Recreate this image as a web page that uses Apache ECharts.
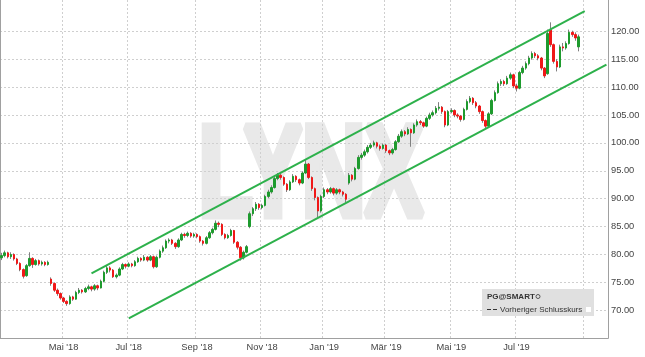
<!DOCTYPE html>
<html><head><meta charset="utf-8">
<script src="https://cdn.jsdelivr.net/npm/echarts@6/dist/echarts.min.js"></script>
<style>html,body{margin:0;padding:0;background:#fff}#c{width:645px;height:357px}</style>
</head><body><div id="c"></div>
<script>
// ---- calendar ----
const firstDay = '2018-03-05';
const lastDay = '2019-09-23';
const holidays = ['2018-03-30','2018-05-28','2018-07-04','2018-09-03','2018-11-22','2018-12-05','2018-12-25',
  '2019-01-01','2019-01-21','2019-02-18','2019-04-19','2019-05-27','2019-07-04','2019-09-02'];
const monthNames = ['Jan','Feb','Mär','Apr','Mai','Jun','Jul','Aug','Sep','Okt','Nov','Dez'];
const xTickLabels = ["Mai '18","Jul '18","Sep '18","Nov '18","Jan '19","Mär '19","Mai '19","Jul '19"];
const yTickValues = [70,75,80,85,90,95,100,105,110,115,120];

// ---- candles: [open, close, low, high], one per two trading days ----
const candles2018 = [
[79.4,79.8,79.0,80.3],[79.8,80.3,79.5,80.7],[80.3,79.6,79.3,80.5],[79.6,80.0,79.2,80.4],[80.0,79.2,78.9,80.2],
[79.2,78.4,78.1,79.4],[78.4,77.3,77.0,78.6],[77.3,76.1,75.7,77.5],[76.2,78.0,76.0,78.3],[78.0,79.3,77.8,80.4],
[79.3,78.2,77.6,79.5],[78.2,78.9,78.0,79.2],[78.9,78.3,78.0,79.1],[78.3,78.6,78.0,78.9],[78.6,78.2,77.9,78.8],
[78.2,78.6,78.0,78.9],[75.6,74.8,74.4,75.9],[74.8,73.6,73.3,75.0],[73.6,73.0,72.6,73.9],[73.0,72.2,71.9,73.2],
[72.2,71.6,71.3,72.4],[71.6,71.2,70.8,71.8],[71.2,72.4,71.0,72.7],[72.4,72.0,71.7,72.6],[72.0,73.2,71.9,73.5],
[73.2,73.6,72.9,74.0],[73.6,73.3,73.0,73.8],[73.3,73.9,73.1,74.2],[73.9,74.2,73.6,74.6],[74.2,73.8,73.4,74.4],
[73.8,74.4,73.5,74.7],[74.4,74.0,73.6,74.6],[74.0,75.2,73.9,75.5],[75.2,76.8,75.0,77.1],[76.8,77.6,76.5,78.0],
[77.6,77.2,76.8,77.9],[77.2,76.0,75.8,77.4],[76.0,76.3,75.7,76.6],[76.3,77.4,76.1,77.7],[77.4,78.2,77.2,78.5],
[78.2,77.9,77.5,78.4],[77.9,78.3,77.7,78.6],[78.3,78.0,77.7,78.5],[78.0,78.7,77.8,79.0],[78.7,79.3,78.5,79.6],
[79.3,79.0,78.7,79.5],[79.0,79.5,78.8,79.9],[79.5,79.0,78.7,79.7],[79.0,79.6,78.8,79.9],[79.6,77.8,77.5,79.8],
[77.8,79.5,77.6,79.8],[79.5,80.6,79.3,80.9],[80.6,81.2,80.3,81.6],[81.2,82.4,81.0,82.7],[82.4,82.6,82.0,82.9],
[82.6,82.0,81.7,82.8],[82.0,81.4,81.0,82.2],[81.4,82.6,81.2,82.9],[82.6,83.6,82.4,83.9],[83.6,83.4,83.0,83.9],
[83.4,83.8,83.1,84.1],[83.8,83.3,83.0,84.0],[83.3,83.6,83.0,83.9],[83.6,83.2,82.9,83.8],[83.2,82.4,82.1,83.4],
[82.4,82.0,81.6,82.6],[82.0,83.0,81.8,83.3],[83.0,83.9,82.8,84.2],[83.9,84.5,83.6,84.8],[84.5,85.6,84.3,86.1],
[85.6,85.4,84.9,85.9],[85.4,83.6,83.3,85.6],[83.6,83.0,82.7,83.8],[83.0,83.4,82.8,83.7],[83.4,84.3,83.2,84.6],
[84.3,82.2,81.9,84.4],[82.2,81.3,80.9,82.4],[81.3,79.4,78.9,81.5],[79.4,80.4,79.1,80.7],[80.4,81.4,80.2,81.7],
[85.0,87.3,84.7,87.7],[87.3,88.2,86.9,88.5],[88.2,89.0,87.8,89.4],[89.0,88.4,88.0,89.2],[88.4,88.8,88.1,89.1],
[88.8,90.4,88.6,90.7],[90.4,91.2,90.1,91.6],[91.2,92.0,90.9,92.4],[92.0,93.6,91.8,93.9],[93.6,94.2,93.3,94.6],
[94.2,93.8,93.4,94.5],[93.8,92.6,92.3,94.0],[92.6,91.6,91.2,92.8],[91.6,93.0,91.4,93.3],[93.0,94.0,92.8,94.4],
[94.0,93.4,93.0,94.2],[93.4,92.8,92.4,93.6],[92.8,94.6,92.6,94.9],[94.6,96.2,94.4,96.9],[96.2,93.8,93.5,96.4],
[93.8,91.8,91.4,94.0],[91.8,90.2,89.7,92.0],[90.2,87.8,86.7,90.4],[87.8,90.4,87.5,90.7]
];
const candles2019 = [
[90.4,91.6,90.1,92.0],[91.6,91.2,90.8,91.9],[91.2,91.8,90.9,92.1],[91.8,91.0,90.6,92.0],[91.0,91.6,90.7,91.9],
[91.6,91.2,90.8,91.8],[91.2,90.8,90.4,91.4],[90.8,89.9,89.3,91.0],[92.8,94.2,92.5,94.6],[94.2,93.5,93.1,94.4],
[93.5,95.4,93.3,95.7],[95.4,97.4,95.2,97.8],[97.4,97.8,97.0,98.2],[97.8,98.4,97.5,98.8],[98.4,99.2,98.1,99.6],
[99.2,99.6,98.9,100.0],[99.6,100.0,99.3,100.4],[100.0,99.4,99.0,100.2],[99.4,99.0,98.6,99.7],[99.0,99.6,98.8,99.9],
[99.6,98.6,98.2,99.8],[98.6,98.2,97.8,98.8],[98.2,98.8,97.9,99.1],[98.8,100.2,98.6,100.5],[100.2,101.2,100.0,101.6],
[101.2,102.0,100.9,102.4],[102.0,101.6,101.2,102.3],[101.6,102.4,101.4,102.8],[102.4,101.8,99.3,102.6],[101.8,103.2,101.6,103.5],
[103.2,103.8,102.9,104.2],[103.8,103.6,103.2,104.1],[103.6,103.0,102.7,103.8],[103.0,104.4,102.8,104.7],[104.4,105.0,104.1,105.4],
[105.0,105.4,104.7,105.8],[105.4,106.2,105.1,106.6],[106.2,106.4,105.8,107.3],[106.4,105.6,105.2,106.6],[105.6,103.2,102.8,105.8],
[103.2,105.6,103.0,105.9],[105.6,105.8,105.3,106.2],[105.8,105.0,104.6,106.0],[105.0,104.8,104.4,105.3],[104.8,104.2,103.8,105.0],
[104.2,106.0,104.0,106.3],[106.0,107.4,105.8,107.8],[107.4,108.0,107.1,108.4],[108.0,107.2,106.8,108.2],[107.2,106.6,106.2,107.5],
[106.6,105.6,105.2,106.8],[105.6,104.0,103.6,105.8],[104.0,103.0,102.6,104.2],[103.0,105.2,102.8,105.5],[105.2,107.6,105.0,107.9],
[107.6,109.0,107.4,109.4],[109.0,110.6,108.8,111.0],[110.6,111.0,110.2,111.4],[111.0,110.6,110.2,111.3],[110.6,111.6,110.4,112.0],
[111.6,112.2,111.3,112.6],[112.2,110.2,109.8,112.4],[110.2,109.8,109.2,110.6],[109.8,112.6,109.6,112.9],[112.6,113.4,112.3,113.8],
[113.4,114.2,113.1,114.6],[114.2,115.2,113.9,115.6],[115.2,116.0,114.9,116.4],[116.0,115.6,115.2,116.3],[115.6,115.2,114.8,115.9],
[115.2,113.4,113.0,115.4],[113.4,112.0,111.6,113.6],[112.4,119.6,112.2,120.3],[120.3,117.6,117.2,121.6],[117.6,114.6,114.2,117.8],
[114.6,113.6,112.8,115.0],[113.6,117.2,113.4,117.6],[117.2,117.0,116.4,117.9],[117.0,117.8,116.7,118.2],[117.8,119.8,117.6,120.3],
[119.8,119.4,119.0,120.1],[119.4,118.8,118.3,119.8],[117.2,119.0,116.4,119.4]
];

// ---- trend channel (date, price) ----
const upperChannelDates = ['2018-05-25','2019-08-30'];
const upperChannelValues = [76.6, 123.6];
const lowerChannelDates = ['2018-06-29','2019-09-20'];
const lowerChannelValues = [68.56, 114.0];

// ---- build ----
function tradingDays(start, end) {
  const out = []; const d = new Date(start + 'T00:00:00Z'); const e = new Date(end + 'T00:00:00Z');
  while (d <= e) {
    const wd = d.getUTCDay(); const s = d.toISOString().slice(0, 10);
    if (wd !== 0 && wd !== 6 && holidays.indexOf(s) < 0) out.push(s);
    d.setUTCDate(d.getUTCDate() + 1);
  }
  return out;
}
const days = tradingDays(firstDay, lastDay);
const categories = [];
for (let i = 0; i < days.length; i += 2) categories.push(days[i]);
const monthStart = {}; // category index -> label
for (let i = 1; i < days.length; i++) {
  const m = +days[i].slice(5, 7) - 1, pm = +days[i - 1].slice(5, 7) - 1;
  if (m !== pm && m % 2 === 0) monthStart[Math.floor(i / 2)] = monthNames[m] + " '" + days[i].slice(2, 4);
}
function catIndex(date) { let k = 0; for (let i = 0; i < categories.length; i++) if (categories[i] <= date) k = i; return k; }

const candles = candles2018.concat(candles2019);
const bodies = candles.map(c => [c[0], c[1], Math.min(c[0], c[1]), Math.max(c[0], c[1])]);
const upperLine = upperChannelDates.map((d, i) => [catIndex(d), upperChannelValues[i]]);
const lowerLine = lowerChannelDates.map((d, i) => [catIndex(d), lowerChannelValues[i]]);

const GREEN = '#1e9b2e', RED = '#f01818', WICK = '#808080', LINE = '#2db14b';
const gridColors = []; for (let i = 0; i < 12; i++) gridColors.push('#cfcfcf'); gridColors.push('rgba(0,0,0,0)', 'rgba(0,0,0,0)');
const FONT = '"Liberation Sans", Arial, sans-serif';

const chart = echarts.init(document.getElementById('c'), null, { renderer: 'canvas' });
chart.setOption({
  animation: false,
  backgroundColor: '#fff',
  grid: { left: 0, right: 37, top: 0, bottom: 18.8, containLabel: false },
  xAxis: {
    type: 'category', data: categories, boundaryGap: true,
    axisLine: { lineStyle: { color: '#a0a0a0', width: 1 } },
    axisTick: { show: false },
    axisLabel: {
      interval: (idx) => monthStart[idx] !== undefined && xTickLabels.indexOf(monthStart[idx]) >= 0,
      formatter: (v, idx) => monthStart[idx] || '',
      color: '#444', fontSize: 9.3, fontFamily: FONT, margin: 5
    },
    splitLine: { show: true, interval: (idx) => monthStart[idx] !== undefined,
      lineStyle: { color: '#cfcfcf', type: [2, 2], width: 1 } }
  },
  yAxis: [{
    type: 'value', position: 'right', min: 65, max: 125.6, interval: 5, scale: true,
    axisLine: { show: true, lineStyle: { color: '#a0a0a0' } },
    axisTick: { show: false },
    axisLabel: { color: '#444', fontSize: 9.3, fontFamily: FONT, margin: 3,
      formatter: v => yTickValues.indexOf(v) >= 0 ? v.toFixed(2) : '' },
    splitLine: { show: true, lineStyle: { color: gridColors, type: [2, 2], width: 1 } }
  }, {
    type: 'value', position: 'left', min: 65, max: 125.6,
    axisLine: { show: true, lineStyle: { color: '#a0a0a0' } },
    axisTick: { show: false }, axisLabel: { show: false }, splitLine: { show: false }
  }],
  series: [{
    type: 'candlestick', data: candles, barWidth: 1, silent: true, z: 3,
    itemStyle: { color: WICK, color0: WICK, borderColor: WICK, borderColor0: WICK, borderWidth: 1 }
  }, {
    type: 'candlestick', data: bodies, barWidth: 2, silent: true, z: 4,
    itemStyle: { color: GREEN, color0: RED, borderColor: GREEN, borderColor0: RED, borderWidth: 1 }
  }, {
    type: 'line', data: upperLine, symbol: 'none', silent: true, z: 5,
    lineStyle: { color: LINE, width: 2 }
  }, {
    type: 'line', data: lowerLine, symbol: 'none', silent: true, z: 5,
    lineStyle: { color: LINE, width: 2 }
  }],
  graphic: [
    { type: 'text', x: 311, y: 180, scaleX: 0.68, z: -10, silent: true,
      style: { text: 'LYNX', font: 'bold 128px ' + FONT, fill: '#e9e9e9', stroke: '#e9e9e9', lineWidth: 9,
        align: 'center', verticalAlign: 'middle' } },
    { type: 'rect', shape: { x: 482, y: 289, width: 112, height: 27 }, style: { fill: '#e0e0e0' }, z: 50 },
    { type: 'text', x: 487, y: 297, z: 51, style: { text: 'PG@SMART', font: 'bold 8px ' + FONT, fill: '#333', verticalAlign: 'middle' } },
    { type: 'circle', shape: { cx: 538, cy: 296.5, r: 2 }, style: { fill: 'none', stroke: '#555', lineWidth: 1 }, z: 51 },
    { type: 'line', shape: { x1: 487, y1: 309.5, x2: 491, y2: 309.5 }, style: { stroke: '#333', lineWidth: 1 }, z: 51 },
    { type: 'line', shape: { x1: 493, y1: 309.5, x2: 497, y2: 309.5 }, style: { stroke: '#333', lineWidth: 1 }, z: 51 },
    { type: 'text', x: 500, y: 309.5, z: 51, style: { text: 'Vorheriger Schlusskurs', font: '8px ' + FONT, fill: '#333', verticalAlign: 'middle' } },
    { type: 'rect', shape: { x: 586, y: 307, width: 5, height: 5 }, style: { fill: '#fff' }, z: 51 }
  ]
});
</script></body></html>
